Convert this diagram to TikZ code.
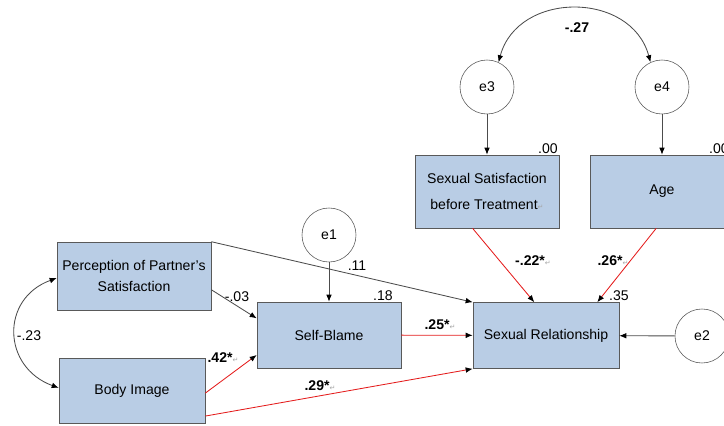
\documentclass[tikz,border=0pt]{standalone}
\usepackage{fontspec}
\setmainfont{Liberation Sans}
\newfontfamily\symfont{DejaVu Sans}
\usepackage{xcolor}
\usepackage{tikz}
\usetikzlibrary{arrows.meta,calc}

\definecolor{boxblue}{RGB}{185,205,229}
\definecolor{pathred}{RGB}{228,28,28}
\newcommand{\retmark}{{\symfont\fontsize{5}{5}\selectfont\color{black!35}↵}}

\begin{document}
\begin{tikzpicture}[
  x=0.025cm, y=-0.025cm,
  box/.style={rectangle, draw=black!65, fill=boxblue, minimum width=3.6cm, minimum height=1.65cm, align=center, inner sep=2pt},
  err/.style={circle, draw=black!65, fill=white, minimum size=1.35cm, inner sep=0pt},
  arrow/.style={-{Latex[length=5pt,width=4pt,black]}, black!70, semithick},
  redarrow/.style={-{Latex[length=5pt,width=4pt,black]}, pathred, semithick},
  corr/.style={{Latex[length=5pt,width=4pt,black]}-{Latex[length=5pt,width=4pt,black]}, black!70, semithick},
  coef/.style={inner sep=1pt}
]
\clip (0,0) rectangle (724,426);

% Exogenous variables
\node[box, minimum width=3.85cm, minimum height=1.7cm] (persat) at (134,276) {Perception of Partner's\\[3pt]Satisfaction};
\node[box, minimum width=3.65cm, minimum height=1.625cm] (body) at (132,390.5) {Body Image};

% Mediator
\node[box, minimum height=1.65cm] (selfb) at (329,335) {Self-Blame};

% Outcome
\node[box, minimum width=3.65cm] (sexrel) at (546,335.5) {Sexual Relationship};

% Covariates
\node[box, minimum height=1.825cm] (sexsat) at (487,191.5) {Sexual Satisfaction\\[6pt]before Treatment\retmark};
\node[box, minimum height=1.825cm] (age) at (662,191.5) {Age};

% Error terms
\node[err] (e1) at (329,235) {e1};
\node[err] (e2) at (702,336) {e2};
\node[err] (e3) at (487,87) {e3};
\node[err] (e4) at (662,87) {e4};

% Arrows
\draw[arrow] (e1) -- (selfb);
\draw[arrow] (e2) -- (sexrel);
\draw[arrow] (e3) -- (sexsat);
\draw[arrow] (e4) -- (age);
\draw[arrow] (persat.north east) -- (sexrel.north west);
\draw[arrow] ($(persat.north east)!0.7!(persat.south east)$) -- ($(selfb.north west)!0.25!(selfb.south west)$);
\draw[redarrow] ($(body.north east)!0.54!(body.south east)$) -- ($(selfb.north west)!0.8!(selfb.south west)$);
\draw[redarrow] ($(body.north east)!0.89!(body.south east)$) -- (sexrel.south west);
\draw[redarrow] (selfb) -- (sexrel);
\draw[redarrow] ($(sexsat.south west)!0.4!(sexsat.south east)$) -- ($(sexrel.north west)!0.42!(sexrel.north east)$);
\draw[redarrow] ($(age.south west)!0.46!(age.south east)$) -- ($(sexrel.north west)!0.85!(sexrel.north east)$);

% Correlations
\draw[corr] (e3.65) to[out=75, in=105, looseness=1.25] (e4.115);
\draw[corr] ($(persat.north west)!0.53!(persat.south west)$) to[out=200, in=160, looseness=1.4] ($(body.north west)!0.46!(body.south west)$);

% Coefficients
\node[coef] (c34) at (577,28) {\textbf{-.27}};
\node[coef] (cpb) at (29,336) {-.23};
\node[coef] (c11) at (357,266) {.11};
\node[coef] (c03) at (237,297) {-.03};
\node[coef] (c42) at (223,358) {\textbf{.42*}\retmark};
\node[coef] (c29) at (320,386) {\textbf{.29*}\retmark};
\node[coef] (c25) at (440,325) {\textbf{.25*}\retmark};
\node[coef] (c22) at (533,261) {\textbf{-.22*}\retmark};
\node[coef] (c26) at (613,261) {\textbf{.26*}\retmark};

% Squared multiple correlations
\node[coef] (r18) at (383,296) {.18};
\node[coef] (r35) at (619,296) {.35};
\node[coef] (r00a) at (548,149) {.00};
\node[coef] (r00b) at (719,149) {.00};

\end{tikzpicture}
\end{document}
